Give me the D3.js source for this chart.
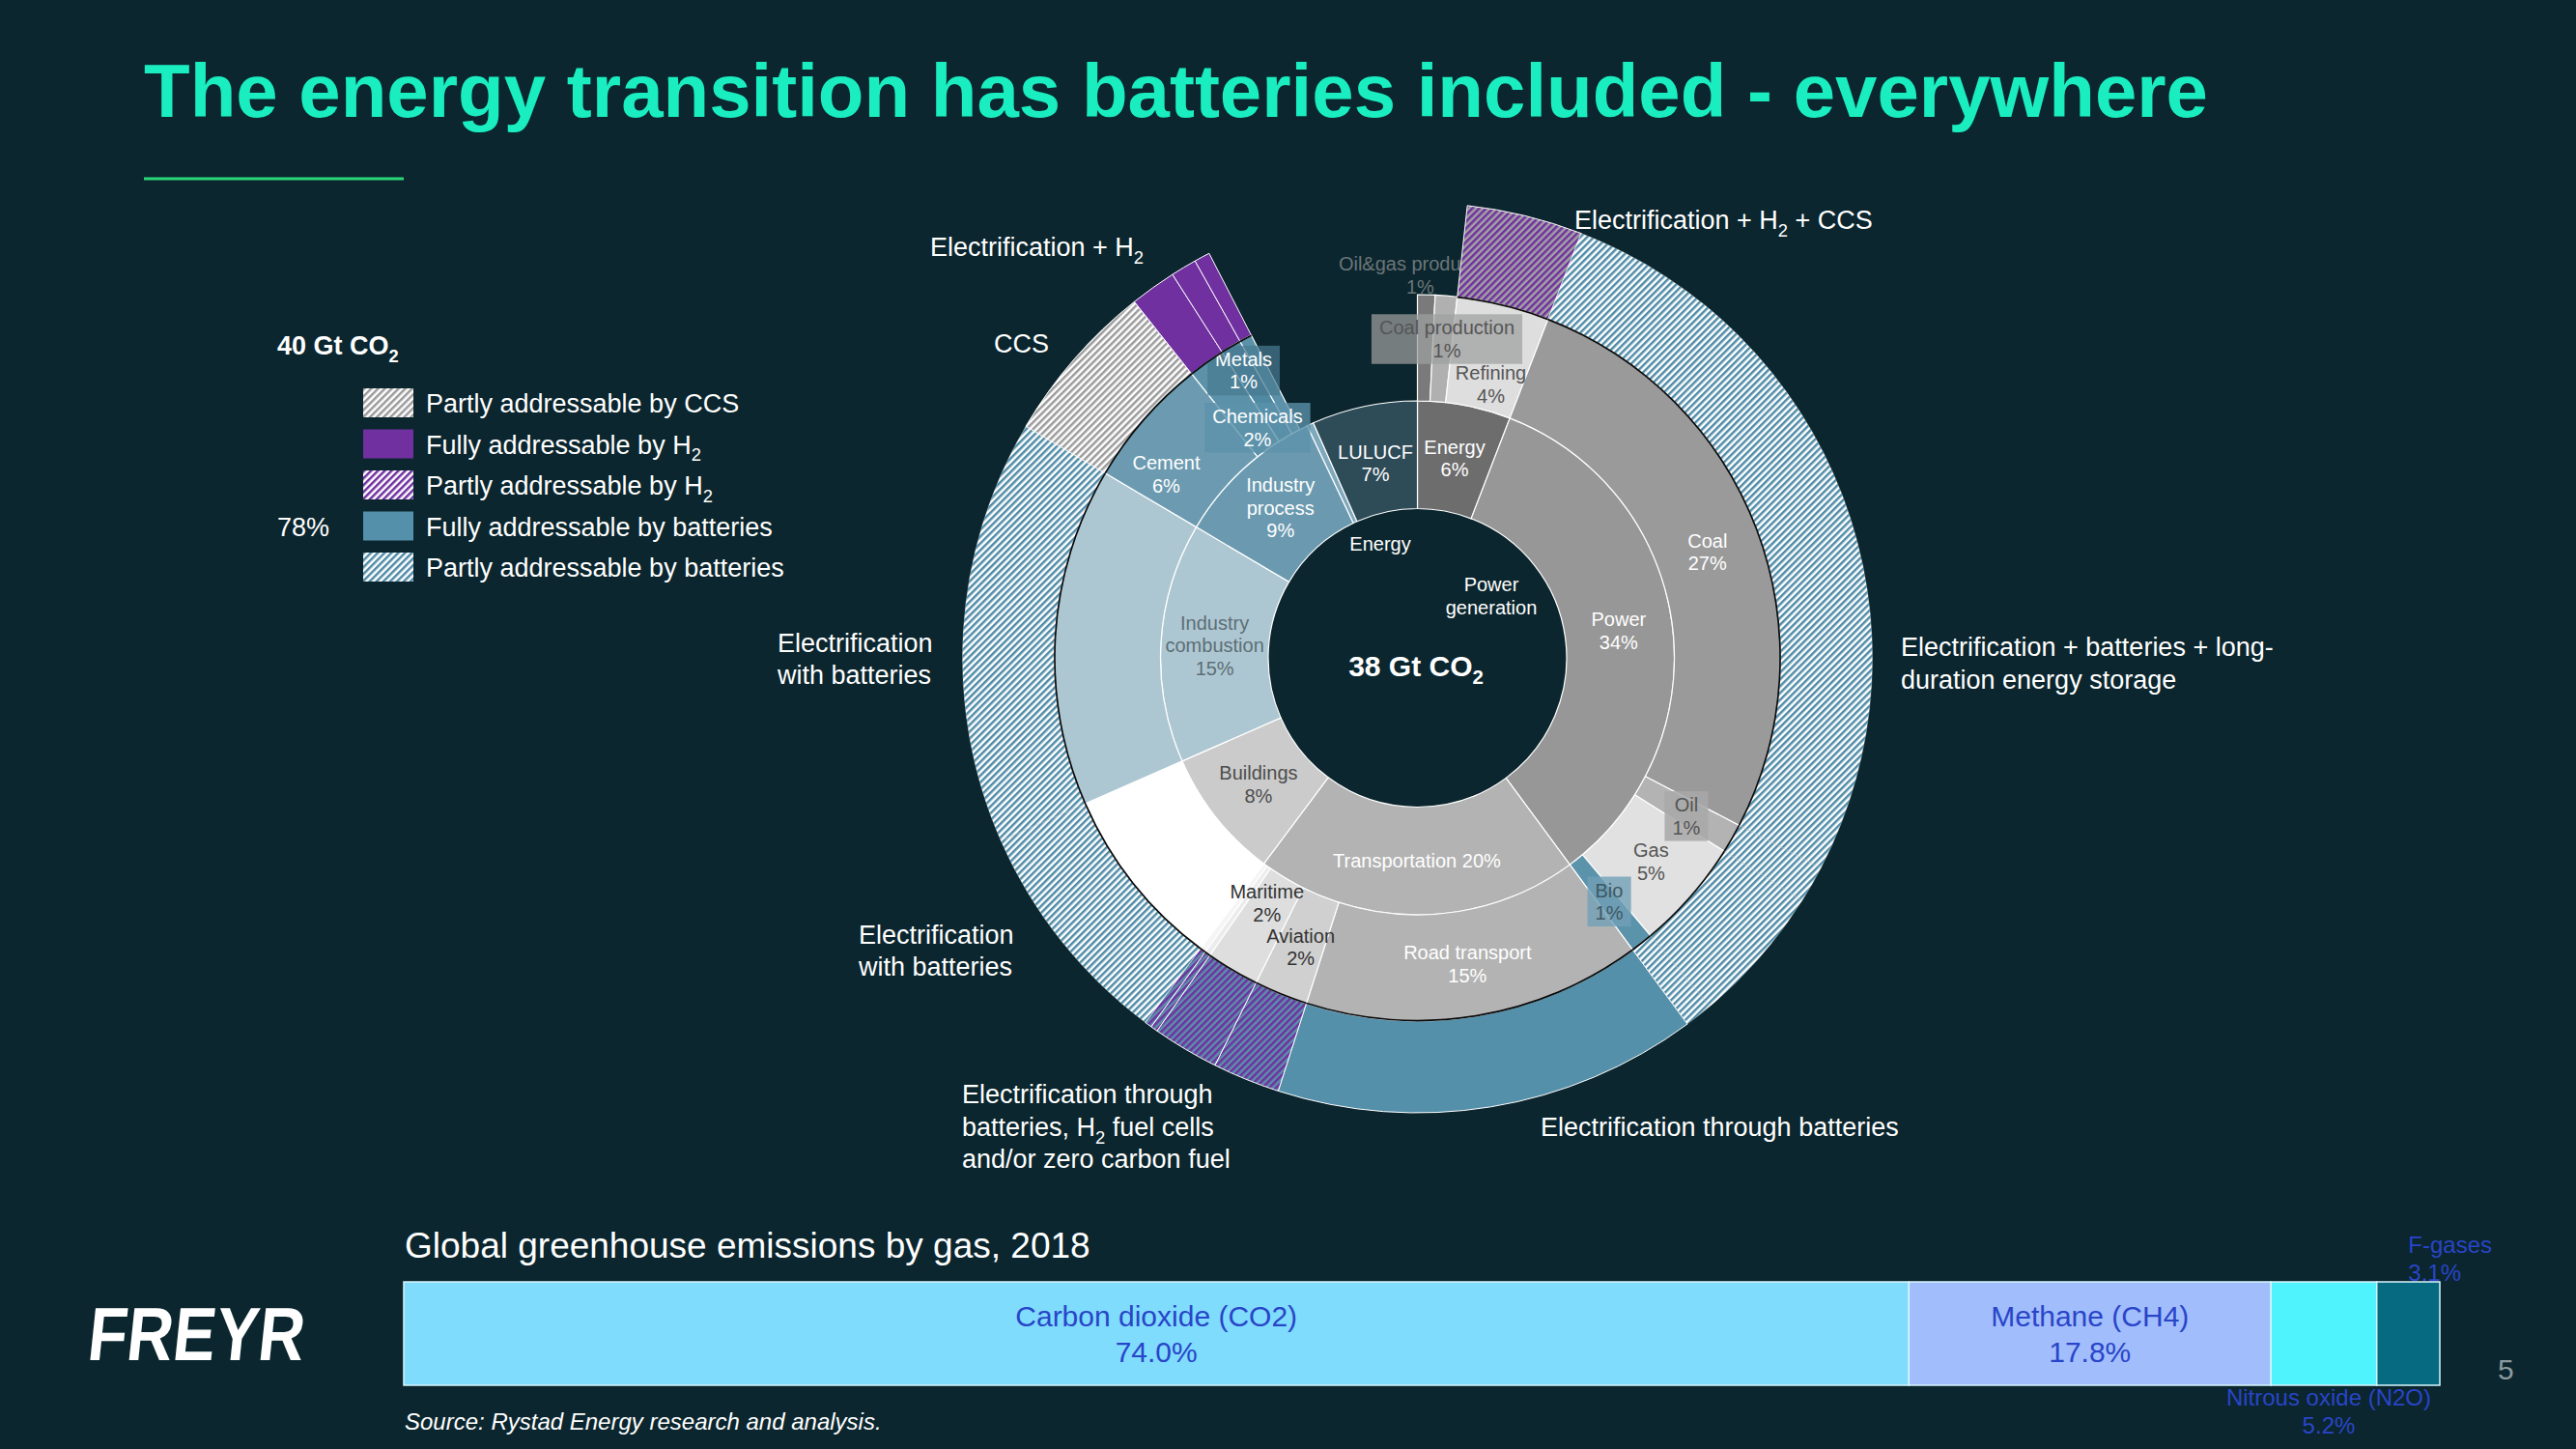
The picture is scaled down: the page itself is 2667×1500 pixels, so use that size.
<!DOCTYPE html>
<html><head><meta charset="utf-8">
<script src="https://cdn.jsdelivr.net/npm/d3@7"></script>
<style>
html,body{margin:0;padding:0;background:#0b262e;}
svg{display:block;font-family:"Liberation Sans",Arial,Helvetica,sans-serif;}
</style></head><body>
<svg id="chart" width="2667" height="1500"></svg>
<script>
// ---------------- DATA ----------------
// inner ring: sectors (share of 38 Gt CO2, %)
const ring1Names  = ["Energy","Power","Transportation","Buildings","Industry combustion","Industry process","Other industry","LULUCF"];
const ring1Values = [5.86, 34.03, 20.31, 8.22, 15.08, 9.44, 0.42, 6.64];
const ring1Text   = ["Energy|6%","Power|34%","Transportation 20%","Buildings|8%","Industry|combustion|15%","Industry|process|9%","","LULUCF|7%"];

// middle ring: sub-sectors ("" = empty)
const ring2Names  = ["Oil&gas production","Coal production","Refining","Coal","Oil","Gas","Bio","Road transport","Aviation","Maritime","Rail","Other transport","Buildings","Industry combustion","Cement","Chemicals","Metals","Other industry",""];
const ring2Values = [0.78, 0.97, 4.11, 26.78, 1.31, 4.94, 1.00, 15.06, 2.39, 2.36, 0.25, 0.25, 8.22, 15.08, 5.81, 1.64, 0.92, 0.56, 7.57];
const ring2Text   = ["Oil&gas production|1%","Coal production|1%","Refining|4%","Coal|27%","Oil|1%","Gas|5%","Bio|1%","Road transport|15%","Aviation|2%","Maritime|2%","","","","","Cement|6%","Chemicals|2%","Metals|1%","",""];

// outer ring: addressability of each sub-sector
const ring3Names    = ["","Refining","Coal","Oil","Gas","Bio","Road transport","Aviation","Maritime","Rail","Other transport","Buildings","Industry combustion","Cement","Chemicals","Metals","Other industry",""];
const ring3Values   = [1.75, 4.11, 26.78, 1.31, 4.94, 1.00, 15.06, 2.39, 2.36, 0.25, 0.25, 8.22, 15.08, 5.81, 1.64, 0.92, 0.56, 7.57];
const ring3Solution = ["none","h2ccs","battPartly","battPartly","battPartly","battPartly","battFully","h2battPartly","h2battPartly","h2battPartly","h2battPartly","battPartly","battPartly","ccsPartly","h2Fully","h2Fully","h2Fully","none"];

// legend
const legendLabels = ["Partly addressable by CCS","Fully addressable by H_2","Partly addressable by H_2","Fully addressable by batteries","Partly addressable by batteries"];
const legendKeys   = ["ccsPartly","h2Fully","h2Partly","battFully","battPartly"];

// bottom bar: global greenhouse emissions by gas, 2018 (%)
const gasNames  = ["Carbon dioxide (CO2)","Methane (CH4)","Nitrous oxide (N2O)","F-gases"];
const gasValues = [74.0, 17.8, 5.2, 3.1];
const gasValueLabels = ["74.0%","17.8%","5.2%","3.1%"];

// ---------------- STYLE ----------------
const BG = "#0b262e";
const ring1Fill = {"Energy":"#6d6d6d","Power":"#979797","Transportation":"#b3b3b3","Buildings":"#cbcbcb",
  "Industry combustion":"#adc7d2","Industry process":"#6b9ab0","Other industry":"#7fa9bc","LULUCF":"#2e4b58"};
const ring2Fill = {"Oil&gas production":"#7a7a7a","Coal production":"#b0b0b0","Refining":"#dedede","Coal":"#9a9a9a",
  "Oil":"#b3b3b3","Gas":"#e1e1e1","Bio":"#5b93ab","Road transport":"#b3b3b3","Aviation":"#d0d0d0","Maritime":"#dedede",
  "Rail":"#ececec","Other transport":"#f5f5f5","Buildings":"#ffffff","Industry combustion":"#adc7d2","Cement":"#6c9bb1",
  "Chemicals":"#5b92aa","Metals":"#5089a2","Other industry":"#5b92aa","":"none"};
const labelColor = {"Energy":"#fff","Power":"#fff","Transportation":"#fff","Buildings":"#4d4d4d","Industry combustion":"#5d6e75",
  "Industry process":"#fff","LULUCF":"#fff","Oil&gas production":"#6b7579","Coal production":"#555","Refining":"#555",
  "Coal":"#fff","Oil":"#555","Gas":"#555","Bio":"#3f5862","Road transport":"#fff","Aviation":"#333","Maritime":"#333",
  "Cement":"#fff","Chemicals":"#fff","Metals":"#fff"};
const labelNudge = {"Maritime":[8,-22],"Aviation":[0,2],"Refining":[0,29],"Coal production":[5,-10],"Oil&gas production":[-5,-75],
  "Cement":[-18,21],"Chemicals":[21,23],"Metals":[-15,-22],"LULUCF":[0,4],"Oil":[0,4],"Coal":[0,4]};
const labelBox = {"Metals":"rgba(72,122,145,0.72)","Chemicals":"rgba(92,146,170,0.78)","Coal production":"rgba(158,160,160,0.72)",
  "Oil":"rgba(168,168,168,0.85)","Bio":"rgba(112,160,182,0.8)"};

const W = 2667, H = 1500;
const cx = 1467.5, cy = 681;
const R0 = 154.5, R1 = 266, R2 = 376, R3 = 471;

const svg = d3.select("#chart");
svg.append("rect").attr("width", W).attr("height", H).attr("fill", BG);

// ---------------- PATTERNS ----------------
const defs = svg.append("defs");
function stripes(id, bg, fg, size, frac) {
  const p = defs.append("pattern").attr("id", id).attr("patternUnits", "userSpaceOnUse")
    .attr("width", size).attr("height", size).attr("patternTransform", "rotate(45)");
  p.append("rect").attr("width", size).attr("height", size).attr("fill", bg);
  p.append("rect").attr("width", size * frac).attr("height", size).attr("fill", fg);
}
stripes("pBlue", "#ffffff", "#4f8ba7", 5, 0.5);
stripes("pGray", "#ffffff", "#9b9b9b", 5, 0.5);
stripes("pPurpleGray", "#a3a3a3", "#7030a0", 5, 0.5);
stripes("pPurpleBlue", "#5a90aa", "#7030a0", 5, 0.5);
stripes("pPurpleWhite", "#ffffff", "#7030a0", 5, 0.5);
const solutionFill = {none:"none", h2ccs:"url(#pPurpleGray)", battPartly:"url(#pBlue)", battFully:"#5590ab",
  h2battPartly:"url(#pPurpleBlue)", ccsPartly:"url(#pGray)", h2Fully:"#7030a0", h2Partly:"url(#pPurpleWhite)"};

// ---------------- TEXT HELPER (supports _2 subscript) ----------------
function rich(sel, x, y, str, size, o = {}) {
  const t = sel.append("text").attr("x", x).attr("y", y).attr("font-size", size)
    .attr("fill", o.fill || "#fff").attr("text-anchor", o.anchor || "start")
    .attr("font-weight", o.weight || "normal").attr("font-style", o.style || "normal");
  const parts = str.split("_2");
  const sh = size * 0.28;
  parts.forEach((p, i) => {
    if (i > 0) {
      t.append("tspan").attr("dy", sh).attr("font-size", size * 0.68).text("2");
      t.append("tspan").attr("dy", -sh).text(p);
    } else t.append("tspan").text(p);
  });
  return t;
}

// ---------------- TITLE ----------------
svg.append("text").attr("x", 149).attr("y", 121).attr("font-size", 78).attr("font-weight", "bold")
  .attr("fill", "#1aedc0").text("The energy transition has batteries included - everywhere");
svg.append("rect").attr("x", 149).attr("y", 183.5).attr("width", 269).attr("height", 3).attr("fill", "#2bd67b");

// ---------------- SUNBURST ----------------
const pie = d3.pie().sort(null).value(d => d.value).startAngle(0).endAngle(2 * Math.PI);
const arc1 = d3.arc().innerRadius(R0).outerRadius(R1);
const arc2 = d3.arc().innerRadius(R1).outerRadius(R2);
const arc3 = d3.arc().innerRadius(R2).outerRadius(R3);
const arcLine = d3.arc().innerRadius(R2 - 1.3).outerRadius(R2 + 0.4);

const ring1 = ring1Names.map((n, i) => ({name: n, value: ring1Values[i], text: ring1Text[i]}));
const ring2 = ring2Names.map((n, i) => ({name: n, value: ring2Values[i], text: ring2Text[i]}));
const ring3 = ring3Names.map((n, i) => ({name: n, value: ring3Values[i], sol: ring3Solution[i]}));

const g = svg.append("g").attr("transform", `translate(${cx},${cy})`);
const p1 = pie(ring1), p2 = pie(ring2), p3 = pie(ring3);

g.append("g").selectAll("path").data(p1).join("path")
  .attr("d", arc1).attr("fill", d => ring1Fill[d.data.name])
  .attr("stroke", "#fff").attr("stroke-width", 1.2);

g.append("g").selectAll("path").data(p2.filter(d => d.data.name !== "")).join("path")
  .attr("d", arc2).attr("fill", d => ring2Fill[d.data.name])
  .attr("stroke", "#fff").attr("stroke-width", 1.2);

// labels
const labLayer = g.append("g");
function placeLabel(d, arcGen) {
  if (!d.data.text) return;
  const lines = d.data.text.split("|");
  const c = arcGen.centroid(d);
  const nd = labelNudge[d.data.name] || [0, 0];
  const x = c[0] + nd[0], y = c[1] + nd[1];
  const lh = 23.5;
  const grp = labLayer.append("g");
  const t = grp.append("text").attr("font-size", 20).attr("text-anchor", "middle")
    .attr("fill", labelColor[d.data.name] || "#fff");
  lines.forEach((ln, i) => {
    t.append("tspan").attr("x", x).attr("y", y - (lines.length - 1) * lh / 2 + 7 + i * lh).text(ln);
  });
  if (labelBox[d.data.name]) {
    const bb = t.node().getBBox();
    grp.insert("rect", "text").attr("x", bb.x - 8).attr("y", bb.y - 3)
      .attr("width", bb.width + 16).attr("height", bb.height + 6).attr("fill", labelBox[d.data.name]);
  }
}
p1.forEach(d => placeLabel(d, arc1));
p2.forEach(d => placeLabel(d, arc2));

// outer ring
const r3 = p3.filter(d => d.data.sol !== "none");
g.append("g").selectAll("path").data(r3).join("path")
  .attr("d", arc3).attr("fill", d => solutionFill[d.data.sol])
  .attr("stroke", "#fff").attr("stroke-width", d => d.data.sol === "battPartly" ? 0.6 : 1)
  .attr("stroke-opacity", d => d.data.sol === "battPartly" ? 0.45 : 1);
g.append("g").selectAll("path").data(r3).join("path")
  .attr("d", arcLine).attr("fill", "#0a0a0a");

// hole texts
svg.append("text").attr("x", 1429).attr("y", 570).attr("font-size", 20).attr("text-anchor", "middle").attr("fill", "#fff").text("Energy");
svg.append("text").attr("x", 1544).attr("y", 612).attr("font-size", 20).attr("text-anchor", "middle").attr("fill", "#fff").text("Power");
svg.append("text").attr("x", 1544).attr("y", 636).attr("font-size", 20).attr("text-anchor", "middle").attr("fill", "#fff").text("generation");
rich(svg, 1466, 700, "38 Gt CO_2", 30, {weight: "bold", anchor: "middle"});

// ---------------- ANNOTATIONS ----------------
const ann = svg.append("g");
const A = 27;
rich(ann, 963, 265, "Electrification + H_2", A);
rich(ann, 1029, 365, "CCS", A);
rich(ann, 1630, 237, "Electrification + H_2 + CCS", A);
rich(ann, 1968, 679, "Electrification + batteries + long-", A);
rich(ann, 1968, 713, "duration energy storage", A);
rich(ann, 805, 675, "Electrification", A);
rich(ann, 805, 708, "with batteries", A);
rich(ann, 889, 977, "Electrification", A);
rich(ann, 889, 1010, "with batteries", A);
rich(ann, 996, 1142, "Electrification through", A);
rich(ann, 996, 1176, "batteries, H_2 fuel cells", A);
rich(ann, 996, 1209, "and/or zero carbon fuel", A);
rich(ann, 1595, 1176, "Electrification through batteries", A);

// ---------------- LEGEND ----------------
const leg = svg.append("g");
rich(leg, 287, 367, "40 Gt CO_2", 27, {weight: "bold"});
legendKeys.forEach((k, i) => {
  const y0 = 402 + i * 42.5;
  leg.append("rect").attr("x", 376).attr("y", y0).attr("width", 52).attr("height", 30)
    .attr("fill", solutionFill[k]);
  rich(leg, 441, y0 + 25, legendLabels[i], 27);
});
rich(leg, 287, 402 + 3 * 42.5 + 25, "78%", 27);

// ---------------- GAS BAR ----------------
const barG = svg.append("g");
rich(barG, 419, 1302, "Global greenhouse emissions by gas, 2018", 37);
const gasColors = ["#7fdcfd", "#a1bdfc", "#4ef3fd", "#066b80"];
const x = d3.scaleLinear().domain([0, d3.sum(gasValues)]).range([418, 2526]);
const barTop = 1327, barBot = 1434;
let acc = 0;
const gasData = gasNames.map((n, i) => { const d = {name: n, value: gasValues[i], lab: gasValueLabels[i], x0: acc, i}; acc += gasValues[i]; return d; });
barG.selectAll("rect.seg").data(gasData).join("rect").attr("class", "seg")
  .attr("x", d => x(d.x0)).attr("y", barTop)
  .attr("width", d => x(d.x0 + d.value) - x(d.x0)).attr("height", barBot - barTop)
  .attr("fill", (d, i) => gasColors[i]).attr("stroke", "#d6f6ff").attr("stroke-width", 1.5);
const labCol = "#2945c8";
gasData.forEach(d => {
  const mid = (x(d.x0) + x(d.x0 + d.value)) / 2;
  if (d.i < 2) {
    barG.append("text").attr("x", mid).attr("y", 1373).attr("font-size", 30).attr("text-anchor", "middle").attr("fill", labCol).text(d.name);
    barG.append("text").attr("x", mid).attr("y", 1410).attr("font-size", 30).attr("text-anchor", "middle").attr("fill", labCol).text(d.lab);
  } else if (d.i === 2) {
    barG.append("text").attr("x", mid + 5).attr("y", 1455).attr("font-size", 24).attr("text-anchor", "middle").attr("fill", labCol).text(d.name);
    barG.append("text").attr("x", mid + 5).attr("y", 1484).attr("font-size", 24).attr("text-anchor", "middle").attr("fill", labCol).text(d.lab);
  } else {
    barG.append("text").attr("x", mid).attr("y", 1297).attr("font-size", 24).attr("text-anchor", "start").attr("fill", labCol).text(d.name);
    barG.append("text").attr("x", mid).attr("y", 1326).attr("font-size", 24).attr("text-anchor", "start").attr("fill", labCol).text(d.lab);
  }
});

// ---------------- FOOTER ----------------
svg.append("text").attr("x", 419).attr("y", 1480).attr("font-size", 24).attr("font-style", "italic")
  .attr("fill", "#fff").text("Source: Rystad Energy research and analysis.");
svg.append("text").attr("x", 2586).attr("y", 1428).attr("font-size", 30).attr("fill", "#8c9aa0").text("5");
svg.append("text").attr("x", 90).attr("y", 1408).attr("font-size", 78).attr("font-weight", "bold")
  .attr("fill", "#fff").attr("textLength", 224).attr("lengthAdjust", "spacingAndGlyphs")
  .attr("transform", "skewX(-6) translate(147,0)").text("FREYR");
</script>
</body></html>
